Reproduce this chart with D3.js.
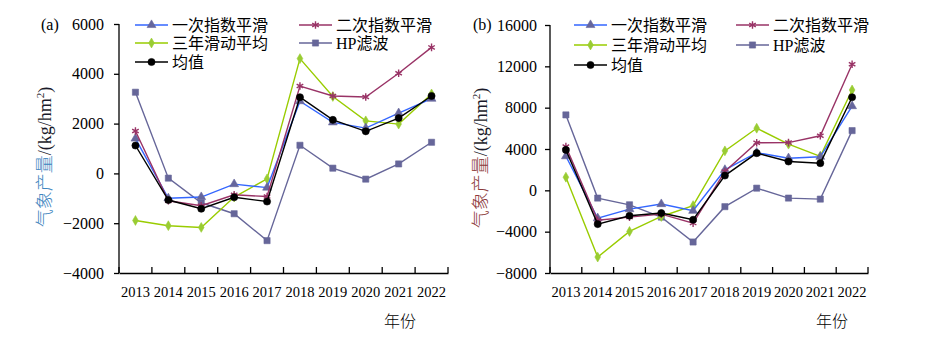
<!DOCTYPE html>
<html>
<head>
<meta charset="utf-8">
<script src="https://cdn.jsdelivr.net/npm/d3@7"></script>
<style>
  body { margin: 0; background: #fff; }
  svg { display: block; font-family: "Liberation Serif", "Noto Sans CJK SC", serif; }
</style>
</head>
<body>
<svg width="926" height="339"></svg>
<script>
const YEARS = [2013, 2014, 2015, 2016, 2017, 2018, 2019, 2020, 2021, 2022];
const SERIES_NAMES = ['一次指数平滑', '二次指数平滑', '三年滑动平均', 'HP滤波', '均值'];

// panel (a)
const A_EXP1 = [1400, -1000, -950, -430, -570, 2900, 2050, 1820, 2420, 3000];
const A_EXP2 = [1700, -1100, -1300, -860, -930, 3510, 3110, 3070, 4020, 5060];
const A_MOV3 = [-1890, -2100, -2170, -950, -220, 4610, 3090, 2110, 1980, 3190];
const A_HP = [3260, -190, -1180, -1620, -2700, 1130, 210, -230, 380, 1250];
const A_MEAN = [1120, -1070, -1420, -960, -1130, 3060, 2150, 1690, 2220, 3110];
const A_TICKS = [-4000, -2000, 0, 2000, 4000, 6000];

// panel (b)
const B_EXP1 = [3300, -2700, -1820, -1330, -1980, 1980, 3650, 3110, 3250, 8150];
const B_EXP2 = [4230, -2900, -2590, -2300, -3170, 1820, 4600, 4620, 5280, 12200];
const B_MOV3 = [1270, -6460, -3980, -2530, -1480, 3820, 6010, 4470, 3290, 9710];
const B_HP = [7300, -750, -1400, -2590, -5000, -1580, 210, -750, -850, 5780];
const B_MEAN = [3910, -3270, -2460, -2200, -2850, 1430, 3600, 2790, 2630, 9010];
const B_TICKS = [-8000, -4000, 0, 4000, 8000, 12000, 16000];

const STYLES = [
  { line: '#3366ff', mark: '#66669c', symbol: d3.symbolTriangle, size: 34, stroke: false },
  { line: '#993366', mark: '#993366', symbol: d3.symbolAsterisk, size: 40, stroke: true },
  { line: '#99cc00', mark: '#99cc33', symbol: d3.symbolDiamond, size: 28, stroke: false },
  { line: '#666699', mark: '#666699', symbol: d3.symbolSquare, size: 38, stroke: false },
  { line: '#000000', mark: '#000000', symbol: d3.symbolCircle, size: 40, stroke: false }
];
const DRAW_ORDER = [3, 2, 0, 1, 4];

const svg = d3.select('svg');

function drawPanel(p) {
  const x = d3.scaleBand().domain(YEARS).range([p.left, p.right]).padding(0);
  const y = d3.scaleLinear().domain(p.domain).range([p.bottom, p.top]);
  const g = svg.append('g');

  // y axis
  const yAxis = g.append('g')
    .attr('transform', `translate(${p.left},0)`)
    .call(d3.axisLeft(y).tickValues(p.ticks).tickFormat(d3.format('d'))
      .tickSize(5).tickPadding(p.yPad).tickSizeOuter(0));
  yAxis.select('.domain').attr('stroke', '#000').attr('stroke-width', 1.3)
    .attr('d', `M0,${p.top}V${p.bottom}`);
  yAxis.selectAll('.tick line').attr('stroke', '#000').attr('stroke-width', 1.3);
  yAxis.selectAll('.tick text').attr('font-size', 16).attr('fill', '#000')
    .attr('font-family', '"Liberation Serif", serif');

  // x axis
  const xAxis = g.append('g')
    .attr('transform', `translate(0,${p.bottom})`)
    .call(d3.axisBottom(x).tickSize(0).tickPadding(13).tickSizeOuter(0));
  xAxis.select('.domain').attr('stroke', '#000').attr('stroke-width', 1.3);
  xAxis.selectAll('.tick text').attr('font-size', 15).attr('fill', '#000')
    .attr('font-family', '"Liberation Serif", serif')
    .attr('textLength', 29).attr('lengthAdjust', 'spacingAndGlyphs');
  const edges = YEARS.map(d => x(d)).concat([x(YEARS[YEARS.length - 1]) + x.bandwidth()]);
  g.selectAll('.xedge').data(edges).enter().append('line')
    .attr('x1', d => d).attr('x2', d => d)
    .attr('y1', p.bottom).attr('y2', p.bottom - 6)
    .attr('stroke', '#000').attr('stroke-width', 1.3);

  // series
  const cx = d => x(d) + x.bandwidth() / 2;
  DRAW_ORDER.forEach(i => {
    const st = STYLES[i];
    const vals = p.series[i];
    const line = d3.line().x((v, j) => cx(YEARS[j])).y(v => y(v));
    g.append('path').datum(vals).attr('d', line)
      .attr('fill', 'none').attr('stroke', st.line).attr('stroke-width', 1.4);
    g.selectAll(null).data(vals).enter().append('path')
      .attr('transform', (v, j) => `translate(${cx(YEARS[j])},${y(v)})`)
      .attr('d', d3.symbol(st.symbol, st.size))
      .attr('fill', st.stroke ? 'none' : st.mark)
      .attr('stroke', st.mark)
      .attr('stroke-width', st.stroke ? 1.4 : 0.6);
  });

  // legend
  p.legend.forEach((pos, i) => {
    const st = STYLES[i];
    const lg = g.append('g').attr('transform', `translate(${pos[0]},${pos[1]})`);
    lg.append('line').attr('x1', 0).attr('x2', p.legLen).attr('y1', 0).attr('y2', 0)
      .attr('stroke', st.line).attr('stroke-width', 1.4);
    lg.append('path').attr('transform', `translate(${p.legLen / 2},0)`)
      .attr('d', d3.symbol(st.symbol, st.size))
      .attr('fill', st.stroke ? 'none' : st.mark)
      .attr('stroke', st.mark).attr('stroke-width', st.stroke ? 1.4 : 0.6);
    lg.append('text').attr('x', p.legLen + 4).attr('y', 6)
      .attr('font-size', 16).attr('fill', '#000')
      .text(SERIES_NAMES[i]);
  });

  // panel letter
  g.append('text').attr('x', p.letterX).attr('y', 30).attr('font-size', 16)
    .text(p.letter);

  // x title
  g.append('text').attr('x', p.xTitleX).attr('y', 327).attr('text-anchor', 'middle')
    .attr('font-size', 16).attr('font-family', '"Noto Sans CJK SC", sans-serif')
    .attr('font-weight', 300).text('年份');

  // y title
  const yt = g.append('text')
    .attr('transform', `translate(${p.yTitleX},${p.yTitleY}) rotate(-90)`)
    .attr('text-anchor', 'middle').attr('font-size', 18);
  yt.append('tspan').attr('fill', p.yTitleColor)
    .attr('font-family', '"Noto Sans CJK SC", sans-serif').attr('font-weight', 300)
    .text('气象产量');
  yt.append('tspan').attr('fill', '#1a1a2a').text('/(kg/hm');
  yt.append('tspan').attr('fill', '#1a1a2a').attr('font-size', 11).attr('dy', -7).text('2');
  yt.append('tspan').attr('fill', '#1a1a2a').attr('dy', 7).text(')');
}

drawPanel({
  left: 119, right: 448, top: 24, bottom: 273,
  domain: [-4000, 6000], ticks: A_TICKS, yPad: 10,
  series: [A_EXP1, A_EXP2, A_MOV3, A_HP, A_MEAN],
  legend: [[135, 25], [299, 25], [135, 43], [299, 43], [135, 62]],
  legLen: 33,
  letter: '(a)', letterX: 41,
  xTitleX: 400, yTitleX: 51, yTitleY: 157, yTitleColor: '#3f86c0'
});

drawPanel({
  left: 550, right: 868, top: 25, bottom: 273,
  domain: [-8000, 16000], ticks: B_TICKS, yPad: 8,
  series: [B_EXP1, B_EXP2, B_MOV3, B_HP, B_MEAN],
  legend: [[574, 25], [736, 25], [574, 45], [736, 45], [574, 65]],
  legLen: 33,
  letter: '(b)', letterX: 473,
  xTitleX: 832, yTitleX: 487, yTitleY: 158, yTitleColor: '#8b3a3a'
});
</script>
</body>
</html>
